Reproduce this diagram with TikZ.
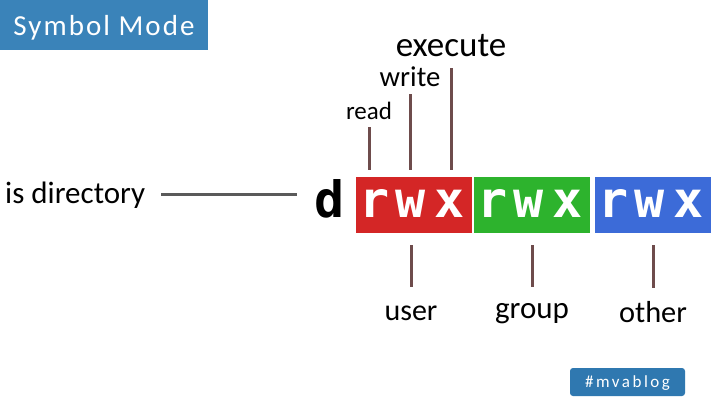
\documentclass[tikz,border=0pt]{standalone}
\usepackage{fontspec}
\setmainfont{Carlito}
\newfontfamily\permfont{DejaVu Sans Mono}
\newfontfamily\titlefont{Carlito}[LetterSpace=7]
\newfontfamily\tagfont{Carlito}[LetterSpace=15]
\definecolor{titleblue}{RGB}{58,131,185}
\definecolor{tagblue}{RGB}{47,120,176}
\definecolor{permred}{RGB}{212,38,38}
\definecolor{permgreen}{RGB}{45,179,45}
\definecolor{permblue}{RGB}{60,107,216}
\definecolor{tickbrown}{RGB}{110,76,76}
\definecolor{dirgray}{RGB}{90,90,90}

\begin{document}
\begin{tikzpicture}[x=1pt,y=-1pt,
  titlebox/.style={fill=titleblue,text=white,inner sep=0pt,text height=22pt,text depth=0pt},
  permbox/.style={minimum width=116pt,minimum height=56pt,inner sep=0pt,anchor=north west},
  permchar/.style={text=white,inner sep=0pt,anchor=base,font=\permfont\bfseries\fontsize{50}{51}\selectfont},
  lbl/.style={inner sep=0pt,anchor=base},
  tick/.style={line width=3pt,draw=tickbrown},
]
\useasboundingbox (0,0) rectangle (714,401);
\fill[white] (0,0) rectangle (714,401);

\node[titlebox,minimum width=208pt,minimum height=50pt,font=\titlefont\fontsize{29}{30}\selectfont]
  (title) at (104,25) {Symbol Mode};

% permission blocks
\foreach \pname/\col/\xl in {usr/permred/356,grp/permgreen/474,oth/permblue/595} {
  \node[permbox,fill=\col] (\pname) at (\xl,177) {};
  \foreach \c/\dx in {r/19,w/55,x/94}
    \node[permchar] (\pname-\c) at (\xl+\dx,217) {\c};
}
\node[permchar,text=black] (dchar) at (330,217) {d};

\node[lbl,anchor=base west,font=\fontsize{31}{32}\selectfont] (isdir) at (5,203) {is directory};
\draw[line width=2.5pt,draw=dirgray,shorten <=16pt,shorten >=18pt] (isdir.east) -- (isdir.east -| dchar.west);

\node[lbl,font=\fontsize{25}{26}\selectfont] (read) at (369,120) {read};
\node[lbl,font=\fontsize{28.7}{30}\selectfont] (write) at (410,87) {write};
\node[lbl,font=\fontsize{35}{36}\selectfont] (exec) at (451,57) {execute};
\draw[tick,shorten <=7pt,shorten >=7pt] (read.south) -- (read.south |- usr.north);
\draw[tick,shorten <=7pt,shorten >=7pt] (write.south) -- (write.south |- usr.north);
\draw[tick,shorten <=11pt,shorten >=7pt] (exec.south) -- (exec.south |- usr.north);

\footnotesize
\node[lbl,font=\fontsize{30}{31}\selectfont] (user) at (411,320) {user};
\node[lbl,font=\fontsize{31}{32}\selectfont] (group) at (532,318) {group};
\node[lbl,font=\fontsize{30.4}{31}\selectfont] (other) at (653,322) {other};
\draw[tick,shorten <=12pt,shorten >=18pt] (user.north |- usr.south) -- (user.north);
\draw[tick,shorten <=12pt,shorten >=15.5pt] (group.north |- grp.south) -- (group.north);
\draw[tick,shorten <=12pt,shorten >=13pt] (other.north |- oth.south) -- (other.north);

\node[fill=tagblue,text=white,rounded corners=3pt,inner sep=0pt,minimum width=115pt,minimum height=28pt,
  text height=10pt,text depth=0pt,font=\tagfont\fontsize{17}{18}\selectfont] (tag) at (627.5,382) {\#mvablog};
\end{tikzpicture}
\end{document}
